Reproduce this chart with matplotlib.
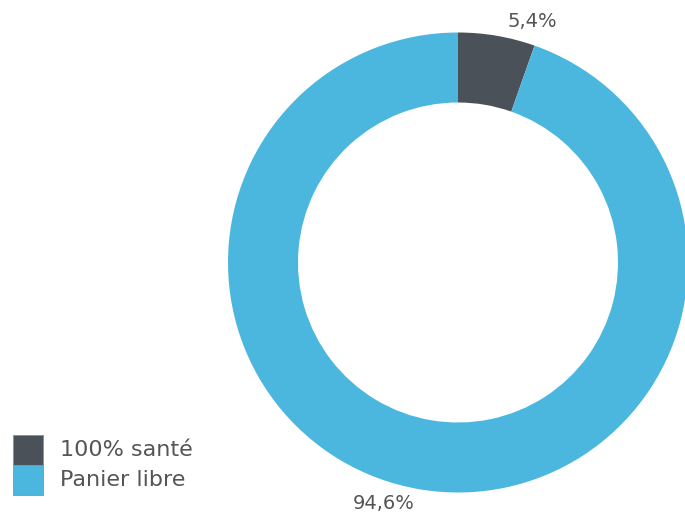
import matplotlib
matplotlib.use("Agg")
import matplotlib.pyplot as plt
import numpy as np
from matplotlib.patches import Rectangle

categories = ["100% santé", "Panier libre"]
shares = [5.4, 94.6]
colors = ["#4a5159", "#4bb7de"]
value_labels = ["5,4%", "94,6%"]

W, H = 685, 516
fig = plt.figure(figsize=(W / 100, H / 100), dpi=100)
ax = fig.add_axes([0, 0, 1, 1])

cx, cy = 458, H - 262.5
R = 230
ring = 70

wedges, _ = ax.pie(shares, colors=colors, startangle=90, counterclock=False,
                   radius=R, center=(cx, cy), frame=True,
                   wedgeprops=dict(width=ring, linewidth=0))
ax.set_xlim(0, W)
ax.set_ylim(0, H)
ax.set_aspect("equal")
ax.axis("off")

# percentage labels placed just outside the ring
for w, lab in zip(wedges, value_labels):
    mid = np.deg2rad((w.theta1 + w.theta2) / 2 - 7.5)
    rl = R + 22
    ax.text(cx + rl * np.cos(mid), cy + rl * np.sin(mid), lab,
            ha="center", va="center", fontsize=14, color="#555555")

# legend: stacked colour swatches with labels, bottom-left corner
sw = 30
top = H - 435
for i, (c, name) in enumerate(zip(colors, categories)):
    y0 = top - (i + 1) * sw
    ax.add_patch(Rectangle((13, y0), sw, sw, facecolor=c,
                           edgecolor="#8a9096", linewidth=0.6))
    ax.text(60, y0 + 9, name, ha="left", va="baseline",
            fontsize=16, color="#555555")

fig.savefig("out.png", dpi=100)
